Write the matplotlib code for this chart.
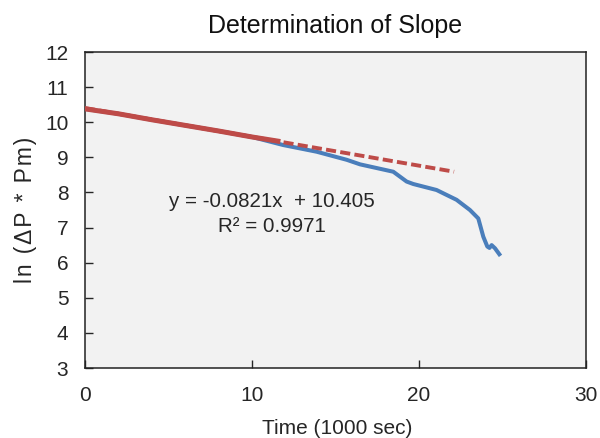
import matplotlib
matplotlib.use("Agg")
import matplotlib.pyplot as plt
import numpy as np

plt.rcParams['font.family'] = ['Liberation Sans', 'DejaVu Sans']

# Full pressure-decay record (time in 1000 s, ln(dP*Pm))
time_all = [0, 2, 4, 6, 8, 10, 11.87, 13.87, 15.67, 16.47, 18.46, 19.26, 19.66,
            21.05, 22.25, 23.05, 23.55, 23.85, 24.09, 24.22, 24.35, 24.55, 24.81]
lnp_all = [10.38, 10.24, 10.07, 9.91, 9.75, 9.58, 9.35, 9.16, 8.93, 8.80, 8.59,
           8.31, 8.24, 8.07, 7.79, 7.50, 7.26, 6.74, 6.46, 6.42, 6.50, 6.41, 6.24]

# Early-time portion used for the linear fit
time_fit = [0, 2, 4, 6, 8, 10, 11.7]
lnp_fit = [10.38, 10.24, 10.07, 9.91, 9.75, 9.58, 9.45]

# Linear trendline
slope = -0.0821
intercept = 10.405
r_squared = 0.9971
trend_end = 22.1

blue = '#4A7EBB'
red = '#BE4B48'
ink = '#262626'

fig = plt.figure(figsize=(6.0, 4.38), dpi=100)
ax = fig.add_axes([85/600, 1 - 368/438, 501/600, 316/438])
ax.set_facecolor('#F2F2F2')

ax.plot(time_all, lnp_all, color=blue, lw=2.9, solid_joinstyle='round', zorder=2)
tx = np.array([0.0, trend_end])
ax.plot(tx, intercept + slope * tx, color=red, lw=2.8, dashes=(2.6, 1.1), zorder=3)
ax.plot(time_fit, lnp_fit, color=red, lw=3.6, solid_capstyle='butt', zorder=4)

ax.text(11.2, 7.74, f"y = {slope}x  + {intercept}", ha='center', va='center', fontsize=14.8, color=ink)
ax.text(11.2, 7.03, f"R² = {r_squared}", ha='center', va='center', fontsize=14.8, color=ink)

ax.set_xlim(0, 30)
ax.set_ylim(3, 12)
ax.set_xticks([0, 10, 20, 30])
ax.set_yticks(range(3, 13))
ax.tick_params(direction='in', length=6, width=1, labelsize=15, colors=ink, pad=12)
ax.tick_params(axis='x', pad=13)
for s in ax.spines.values():
    s.set_color('#222222')
    s.set_linewidth(1.1)

ax.set_title("Determination of Slope", fontsize=18, pad=13.5, color='#111111')
ax.set_xlabel("Time (1000 sec)", fontsize=15, color=ink, va='center')
ax.xaxis.set_label_coords(0.503, -0.19)
# lightly tracked axis title
ylabel = "\u200a".join("ln (ΔP * Pm)")
ax.set_ylabel(ylabel, fontsize=16.5, color=ink, va='center')
ax.yaxis.set_label_coords(-0.118, 0.5)

fig.savefig("out.png", dpi=100, facecolor='white')
